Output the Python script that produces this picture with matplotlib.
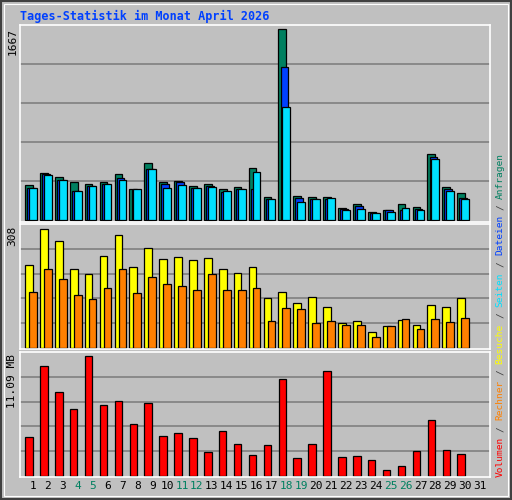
import matplotlib
matplotlib.use("Agg")
import matplotlib.pyplot as plt
from matplotlib.patches import Rectangle

days = list(range(1, 32))
weekend = [4, 5, 11, 12, 18, 19, 25, 26]
anfragen = [307,412,377,333,316,333,403,272,499,333,342,298,316,272,290,455,202,1667,211,202,202,106,141,72,89,141,115,578,290,237]
dateien  = [281,406,351,255,298,316,368,270,447,316,333,281,298,246,272,272,185,1337,194,185,185,97,124,63,89,89,97,552,272,194]
seiten   = [281,394,351,255,298,316,351,272,447,281,307,281,290,255,272,420,185,988,159,185,194,89,97,63,72,106,89,534,255,185]
besuche  = [207,296,266,195,185,229,281,202,249,222,227,219,224,197,187,200,123,140,113,126,101,62,67,39,54,69,57,106,103,123]
rechner  = [138,197,172,131,121,148,195,136,177,160,153,143,185,145,145,150,67,99,96,62,67,57,57,27,54,71,47,71,64,74]
volumen  = [3.45,9.83,7.49,5.96,10.73,6.32,6.68,4.62,6.50,3.54,3.81,3.36,2.19,3.99,2.82,1.92,2.73,8.66,1.65,2.82,9.38,1.74,1.83,1.47,0.57,0.93,2.28,4.97,2.37,2.01]
max_labels = ["1667", "308", "11.09 MB"]

BG = "#C0C0C0"
GREEN, BLUE, CYAN = "#008060", "#0040FF", "#00E0FF"
YELLOW, ORANGE, RED = "#FFFF00", "#FF8000", "#FF0000"
MONO = "DejaVu Sans Mono"

fig = plt.figure(figsize=(5.12, 5.0), dpi=100, facecolor=BG)
fig.add_artist(Rectangle((0.002, 0.002), 0.996, 0.996, transform=fig.transFigure,
                         fill=False, edgecolor="#404040", lw=1.5))
fig.add_artist(Rectangle((0.008, 0.008), 0.984, 0.984, transform=fig.transFigure,
                         fill=False, edgecolor="white", lw=0.8))

L, W = 0.040, 0.918
ax1 = fig.add_axes([L, 0.556, W, 0.394])
ax2 = fig.add_axes([L, 0.302, W, 0.250])
ax3 = fig.add_axes([L, 0.046, W, 0.250])

x = days[:30]
ew = dict(edgecolor="black", linewidth=0.9)
ax1.bar([d - 0.27 for d in x], anfragen, width=0.52, color=GREEN, **ew)
ax1.bar([d - 0.13 for d in x], dateien, width=0.52, color=BLUE, **ew)
ax1.bar(x, seiten, width=0.52, color=CYAN, **ew)
ax2.bar([d - 0.27 for d in x], besuche, width=0.52, color=YELLOW, **ew)
ax2.bar(x, rechner, width=0.52, color=ORANGE, **ew)
ax3.bar([d - 0.27 for d in x], volumen, width=0.5, color=RED, **ew)

tops = [1706, 308, 11.09]
for ax, top, lab in zip([ax1, ax2, ax3], tops, max_labels):
    ax.set_facecolor(BG)
    ax.set_xlim(0.16, 31.7)
    ax.set_ylim(-top * 0.008, top)
    for f in [0.2, 0.4, 0.6, 0.8]:
        ax.axhline(top * f, color="#808080", lw=1.2, zorder=0)
    ax.set_xticks([])
    ax.set_yticks([])
    for s in ax.spines.values():
        s.set_color("white")
        s.set_linewidth(1.2)
    ax.text(-0.028, 0.985, lab, transform=ax.transAxes, rotation=90, ha="left", va="top",
            fontsize=8, family=MONO, color="black")

for d in days:
    ax3.text(d, -0.03, str(d), transform=ax3.get_xaxis_transform(), ha="center", va="top",
             fontsize=8, family=MONO, color=GREEN if d in weekend else "black")

fig.text(0.040, 0.968, "Tages-Statistik im Monat April 2026", fontsize=8.5, family=MONO,
         weight="bold", color=BLUE, ha="left", va="center")

parts = [("Volumen", RED), ("/", "#404040"), ("Rechner", ORANGE), ("/", "#404040"),
         ("Besuche", YELLOW), ("/", "#404040"), ("Seiten", CYAN), ("/", "#404040"),
         ("Dateien", BLUE), ("/", "#404040"), ("Anfragen", GREEN)]
fs = 6.8
cw = fs * 0.602 / 72 * 100 / 500
y0 = 0.046
for txt, col in parts:
    n = len(txt) if txt != "/" else 3
    fig.text(0.977, y0 + cw * n / 2, txt, rotation=90, fontsize=fs, family=MONO, color=col,
             ha="center", va="center")
    y0 += cw * n

fig.savefig("out.png", dpi=100, facecolor=BG)
